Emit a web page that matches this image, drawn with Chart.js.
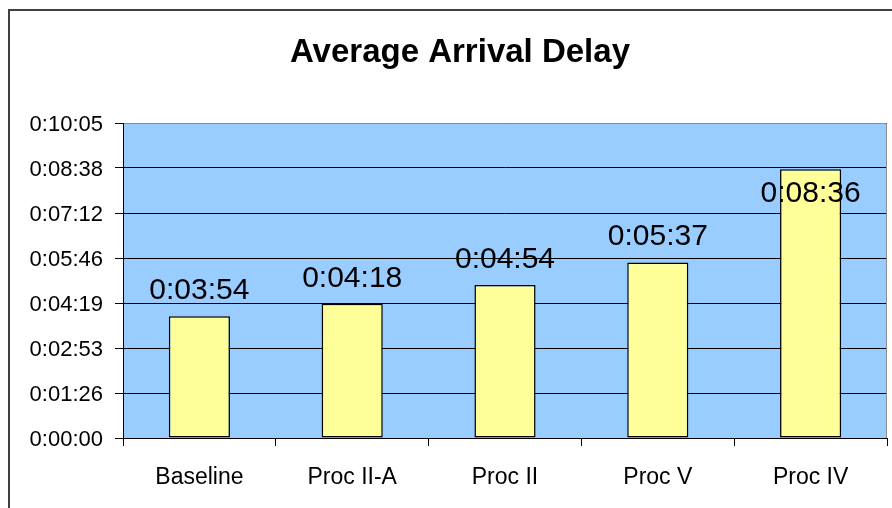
<!DOCTYPE html>
<html>
<head>
<meta charset="utf-8">
<script src="https://cdn.jsdelivr.net/npm/chart.js@4"></script>
<style>
  html, body { margin: 0; padding: 0; background: #fff; }
  canvas { display: block; }
</style>
</head>
<body>
<canvas id="delayChart" width="892" height="508"></canvas>
<script>
// data (seconds)
const categories = ['Baseline', 'Proc II-A', 'Proc II', 'Proc V', 'Proc IV'];
const delaySeconds = [234, 258, 294, 337, 516];
const yTickSeconds = [0, 86.4, 172.8, 259.2, 345.6, 432, 518.4, 604.8];
const chartTitle = 'Average Arrival Delay';

const FONT = '"Liberation Sans", Arial, sans-serif';

// seconds -> h:mm:ss
function fmtTime(sec) {
    const s = Math.round(sec);
    const h = Math.floor(s / 3600);
    const m = Math.floor((s % 3600) / 60);
    const r = s % 60;
    return h + ':' + String(m).padStart(2, '0') + ':' + String(r).padStart(2, '0');
}

// frame, plot background and title
const framePlugin = {
    id: 'frame',
    beforeDraw(chart) {
        const ctx = chart.ctx;
        const a = chart.chartArea;
        ctx.save();
        ctx.fillStyle = '#99CCFF';
        ctx.fillRect(a.left, a.top, a.right - a.left, a.bottom - a.top);
        ctx.strokeStyle = '#404040';
        ctx.lineWidth = 2;
        ctx.beginPath();
        ctx.moveTo(9, chart.height);
        ctx.lineTo(9, 10);
        ctx.lineTo(chart.width, 10);
        ctx.stroke();
        ctx.fillStyle = '#000';
        ctx.font = 'bold 33px ' + FONT;
        ctx.textAlign = 'center';
        ctx.textBaseline = 'alphabetic';
        ctx.fillText(chartTitle, 460, 62);
        ctx.restore();
    },
    beforeDatasetsDraw(chart) {
        // gray plot border on top and right
        const ctx = chart.ctx;
        const a = chart.chartArea;
        ctx.save();
        ctx.strokeStyle = '#8c8c8c';
        ctx.lineWidth = 1;
        ctx.beginPath();
        ctx.moveTo(a.left + 1, Math.round(a.top) + 0.5);
        ctx.lineTo(Math.round(a.right) - 0.5, Math.round(a.top) + 0.5);
        ctx.lineTo(Math.round(a.right) - 0.5, a.bottom);
        ctx.stroke();
        ctx.restore();
    }
};

// value labels above bars
const valueLabels = {
    id: 'valueLabels',
    afterDatasetsDraw(chart) {
        const ctx = chart.ctx;
        const a = chart.chartArea;
        const meta = chart.getDatasetMeta(0);
        ctx.save();
        ctx.font = '30px ' + FONT;
        ctx.fillStyle = '#000';
        ctx.textAlign = 'center';
        ctx.textBaseline = 'alphabetic';
        meta.data.forEach((bar, i) => {
            const txt = fmtTime(delaySeconds[i]);
            let y = bar.y - 17;
            // no room above -> put it inside the bar
            if (y - 22 - a.top < 20) {
                y = bar.y + 33;
            }
            ctx.fillText(txt, bar.x, y);
        });
        ctx.restore();
    }
};

new Chart(document.getElementById('delayChart'), {
    type: 'bar',
    data: {
        labels: categories,
        datasets: [{
            data: delaySeconds,
            backgroundColor: '#FFFF99',
            borderColor: '#000',
            borderWidth: 1.5,
            borderSkipped: false,
            categoryPercentage: 1,
            barPercentage: 0.4
        }]
    },
    options: {
        responsive: false,
        animation: false,
        layout: {
            padding: { left: 0, top: 123, right: 5, bottom: 0 }
        },
        plugins: {
            legend: { display: false },
            title: { display: false },
            tooltip: { enabled: false }
        },
        scales: {
            x: {
                offset: true,
                grid: {
                    offset: true,
                    drawOnChartArea: false,
                    drawTicks: true,
                    tickLength: 8,
                    color: '#000'
                },
                border: { display: true, color: '#000', width: 1 },
                ticks: {
                    color: '#000',
                    font: { family: FONT, size: 23 },
                    padding: 18,
                    maxRotation: 0,
                    autoSkip: false
                },
                afterFit(scale) { scale.height = 70; }
            },
            y: {
                min: 0,
                max: 604.8,
                afterBuildTicks(scale) {
                    scale.ticks = yTickSeconds.map(v => ({ value: v }));
                },
                grid: {
                    color: '#000',
                    lineWidth: 1,
                    tickLength: 8
                },
                border: { display: true, color: '#000', width: 1 },
                ticks: {
                    color: '#000',
                    font: { family: FONT, size: 22 },
                    padding: 12,
                    labelOffset: 2,
                    callback: (v) => fmtTime(v)
                },
                afterFit(scale) { scale.width = 123; }
            }
        }
    },
    plugins: [framePlugin, valueLabels]
});
</script>
</body>
</html>
